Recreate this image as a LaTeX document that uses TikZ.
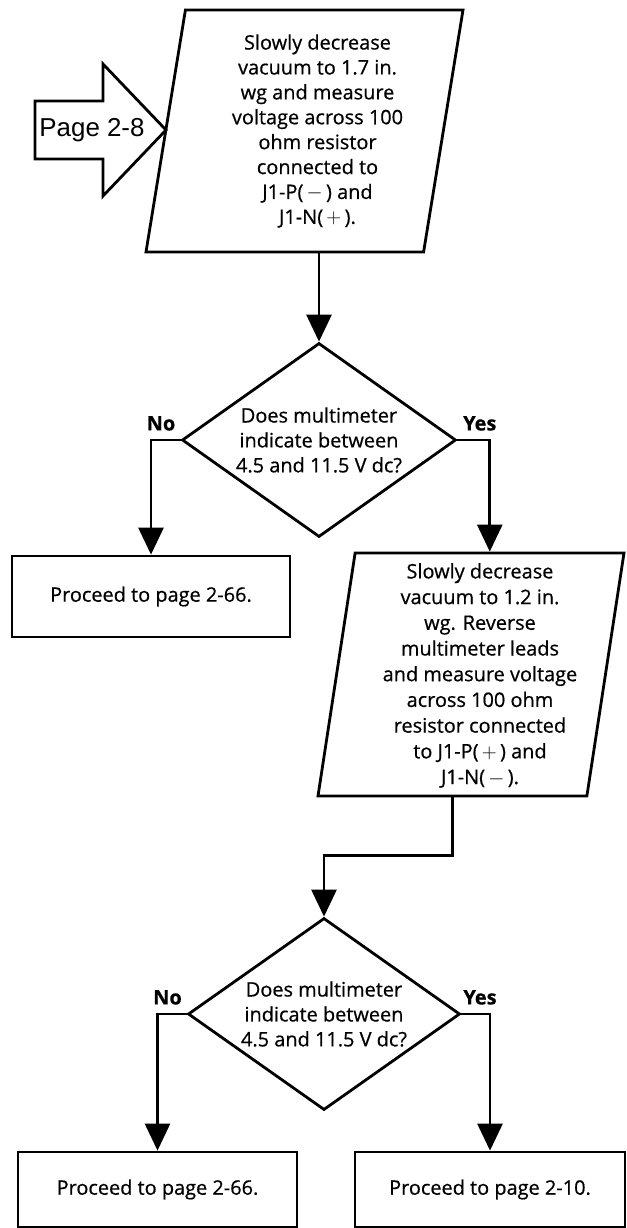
\documentclass[tikz,border=0pt]{standalone}
\usepackage{fontspec}
\setmainfont{Open Sans}[FakeBold=0.6]
\newfontfamily\pagefont{Liberation Sans}
\usetikzlibrary{shapes.geometric,arrows.meta}

\tikzset{
  frame/.style={draw, line width=2.8bp},
  flow/.style={line width=2.8bp, -{Triangle[length=27bp,width=25bp]}},
  iobox/.style={frame, trapezium, trapezium stretches=true, inner sep=2bp},
  bodytext/.style={align=center, inner sep=0pt},
  decision/.style={frame, diamond, inner sep=2bp},
  stepbox/.style={frame, rectangle, inner sep=0pt, align=center},
  yn/.style={font=\fontsize{20}{24}\selectfont\bfseries, inner sep=0pt}
}

\begin{document}
\begin{tikzpicture}[x=1bp, y=-1bp, font=\fontsize{20}{25}\selectfont]
    \useasboundingbox (0,0) rectangle (627,1228);
    \fill[white] (0,0) rectangle (627,1228);
    \clip (0,0) rectangle (627,1228);

    \draw[line width=2.8bp, line join=miter] (35,101) -- (103,101) -- (103,64) -- (166,130) -- (103,196) -- (103,159) -- (35,159) -- cycle;
    \node[font=\pagefont\fontsize{26}{26}\selectfont, inner sep=0pt] (pg) at (92,130) {Page 2-8};

    \node[iobox, minimum width=317bp, minimum height=242bp,
          trapezium left angle=80.6, trapezium right angle=99.4] (p1) at (304.5,131) {};
    \node[bodytext] (p1t) at ([xshift=13bp]p1.center) {Slowly decrease\\vacuum to 1.7 in.\\wg and measure\\voltage across 100\\ohm resistor\\connected to\\J1-P(\,$-$\,) and\\J1-N(\,$+$\,).};

    \node[decision, minimum width=274bp, minimum height=194bp] (d1) at (319,440) {};
    \node[bodytext] (d1t) at (d1.center) {Does multimeter\\indicate between\\4.5 and 11.5 V dc?};

    \node[stepbox, minimum width=278bp, minimum height=81bp] (go1) at (151,596.5) {Proceed to page 2-66.};

    \node[iobox, minimum width=306bp, minimum height=243bp,
          trapezium left angle=80.9, trapezium right angle=99.1] (p2) at (471,674.5) {};
    \node[bodytext, font=\fontsize{20}{25.8}\selectfont] (p2t) at ([xshift=9bp, yshift=-1bp]p2.center) {Slowly decrease\\vacuum to 1.2 in.\\wg. Reverse\\multimeter leads\\and measure voltage\\across 100 ohm\\resistor connected\\to J1-P(\,$+$\,) and\\J1-N(\,$-$\,).};

    \node[decision, minimum width=272bp, minimum height=192bp] (d2) at (324,1014) {};
    \node[bodytext] (d2t) at (d2.center) {Does multimeter\\indicate between\\4.5 and 11.5 V dc?};

    \node[stepbox, minimum width=279bp, minimum height=75bp] (go2) at (157.5,1189.5) {Proceed to page 2-66.};
    \node[stepbox, minimum width=270bp, minimum height=75bp] (go3) at (490,1189.5) {Proceed to page 2-10.};

    \draw[flow] (d1.north |- p1.south) -- (d1.north);
    \draw[flow] (d1.west) -| node[yn, above=8bp, xshift=10bp] {No} (go1.north);
    \draw[flow] (d1.east) -| node[yn, above=8bp, xshift=-10bp] {Yes} (p2.top side);
    \draw[flow] (p2.bottom side) -- ++(0,58) -| (d2.north);
    \draw[flow] (d2.west) -| node[yn, above=8bp, xshift=10bp] {No} (go2.north);
    \draw[flow] (d2.east) -| node[yn, above=8bp, xshift=-10bp] {Yes} (go3.north);
\end{tikzpicture}
\end{document}
